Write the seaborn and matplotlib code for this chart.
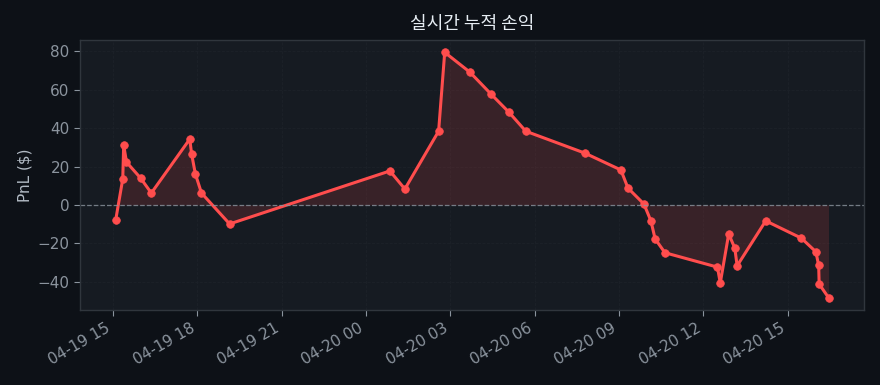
import matplotlib
matplotlib.use("Agg")
import matplotlib.pyplot as plt
import matplotlib.dates as mdates
import seaborn as sns
import pandas as pd

times = [
    "2024-04-19 15:06", "2024-04-19 15:21", "2024-04-19 15:23", "2024-04-19 15:29",
    "2024-04-19 15:59", "2024-04-19 16:22", "2024-04-19 17:44", "2024-04-19 17:48",
    "2024-04-19 17:56", "2024-04-19 18:09", "2024-04-19 19:09", "2024-04-20 00:51",
    "2024-04-20 01:23", "2024-04-20 02:35", "2024-04-20 02:48", "2024-04-20 03:42",
    "2024-04-20 04:27", "2024-04-20 05:05", "2024-04-20 05:41", "2024-04-20 07:47",
    "2024-04-20 09:04", "2024-04-20 09:19", "2024-04-20 09:53", "2024-04-20 10:08",
    "2024-04-20 10:17", "2024-04-20 10:38", "2024-04-20 12:30", "2024-04-20 12:36",
    "2024-04-20 12:54", "2024-04-20 13:07", "2024-04-20 13:12", "2024-04-20 14:13",
    "2024-04-20 15:29", "2024-04-20 16:00", "2024-04-20 16:06", "2024-04-20 16:07",
    "2024-04-20 16:27",
]
pnl = [
    -7.8, 13.5, 31.2, 22.3, 14.0, 6.2, 34.3, 26.5, 16.1, 6.2, -9.9, 17.7,
    8.3, 38.4, 79.5, 69.1, 57.7, 48.3, 38.4, 27.0, 18.2, 8.8, 0.5, -8.3,
    -17.7, -24.9, -32.4, -40.7, -15.1, -22.5, -31.7, -8.3, -17.3, -24.4,
    -31.5, -41.2, -48.3,
]
title = "실시간 누적 손익"
ylabel = "PnL ($)"

BG = "#0d1117"
AX = "#161b22"
RED = "#ff4d4d"
TXT = "#8b949e"

sns.set_theme(style="dark")
plt.rcParams["font.family"] = ["DejaVu Sans", "Noto Sans CJK KR"]

df = pd.DataFrame({"time": pd.to_datetime(times), "pnl": pnl})

fig, ax = plt.subplots(figsize=(8.8, 3.85), dpi=100)
fig.patch.set_facecolor(BG)
ax.set_facecolor(AX)

ax.fill_between(df["time"], df["pnl"], 0, color=RED, alpha=0.15, linewidth=0)
sns.lineplot(data=df, x="time", y="pnl", ax=ax, color=RED, linewidth=2.2,
             marker="o", markersize=5.5, markeredgecolor=RED, markeredgewidth=0.5)
ax.axhline(0, color=TXT, linestyle="--", linewidth=0.9, alpha=0.8)

ax.grid(True, color="#1c2129", linewidth=0.6, linestyle="--")
ax.set_axisbelow(True)
for s in ax.spines.values():
    s.set_color("#30363d")
    s.set_linewidth(1)

ax.xaxis.set_major_locator(mdates.HourLocator(byhour=[0, 3, 6, 9, 12, 15, 18, 21]))
ax.xaxis.set_major_formatter(mdates.DateFormatter("%m-%d %H"))
ax.tick_params(axis="both", colors=TXT, labelsize=11, length=4, width=0.8,
               bottom=True, left=True)
plt.setp(ax.get_xticklabels(), rotation=30, ha="right")

ax.set_xlabel("")
ax.set_ylabel(ylabel, color="#b1bac4", fontsize=11)
ax.set_title(title, color="#e6edf3", fontsize=13,
             family=["Noto Sans CJK KR", "DejaVu Sans"], pad=8)

fig.subplots_adjust(left=0.091, right=0.982, top=0.896, bottom=0.195)
fig.savefig("out.png", dpi=100, facecolor=BG)
